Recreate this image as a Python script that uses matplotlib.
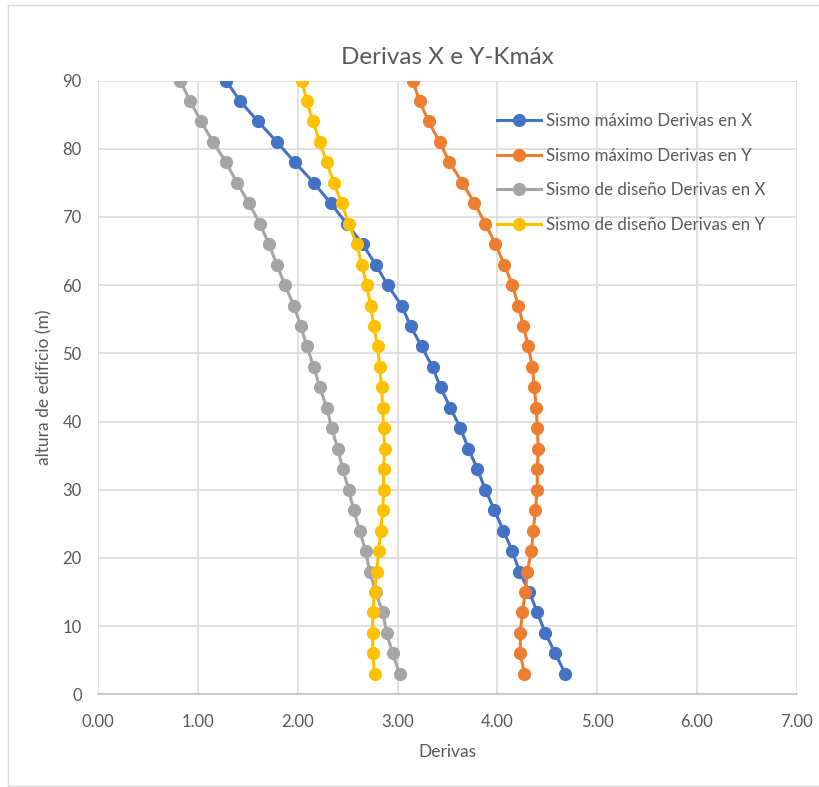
import matplotlib
matplotlib.use("Agg")
import matplotlib.pyplot as plt
from matplotlib.lines import Line2D

# Alturas de cada nivel (m)
alturas = [3, 6, 9, 12, 15, 18, 21, 24, 27, 30, 33, 36, 39, 42, 45,
           48, 51, 54, 57, 60, 63, 66, 69, 72, 75, 78, 81, 84, 87, 90]

# Derivas (de abajo hacia arriba)
max_x = [4.68, 4.58, 4.48, 4.40, 4.32, 4.22, 4.15, 4.06, 3.97, 3.88,
         3.80, 3.71, 3.63, 3.53, 3.43, 3.35, 3.24, 3.13, 3.04, 2.90,
         2.78, 2.65, 2.49, 2.33, 2.16, 1.97, 1.79, 1.60, 1.42, 1.28]
max_y = [4.27, 4.23, 4.23, 4.25, 4.28, 4.30, 4.34, 4.36, 4.38, 4.40,
         4.40, 4.41, 4.40, 4.39, 4.37, 4.35, 4.31, 4.26, 4.21, 4.15,
         4.07, 3.98, 3.88, 3.77, 3.65, 3.52, 3.42, 3.31, 3.22, 3.15]
dis_x = [3.02, 2.95, 2.89, 2.85, 2.78, 2.72, 2.68, 2.62, 2.56, 2.51,
         2.45, 2.40, 2.34, 2.29, 2.22, 2.16, 2.09, 2.03, 1.96, 1.87,
         1.79, 1.71, 1.62, 1.51, 1.39, 1.28, 1.15, 1.03, 0.92, 0.82]
dis_y = [2.77, 2.75, 2.75, 2.75, 2.77, 2.79, 2.81, 2.83, 2.85, 2.86,
         2.86, 2.87, 2.86, 2.85, 2.84, 2.82, 2.80, 2.76, 2.73, 2.69,
         2.64, 2.59, 2.51, 2.44, 2.36, 2.29, 2.22, 2.15, 2.09, 2.04]

series = [
    ("Sismo máximo Derivas en X", max_x, "#4472C4"),
    ("Sismo máximo Derivas en Y", max_y, "#ED7D31"),
    ("Sismo de diseño Derivas en X", dis_x, "#A5A5A5"),
    ("Sismo de diseño Derivas en Y", dis_y, "#FFC000"),
]

plt.rcParams['font.family'] = ['Lato', 'DejaVu Sans']
texto = '#595959'

fig = plt.figure(figsize=(8.2, 7.87), dpi=100)
ax = fig.add_axes([98.3 / 820, 1 - 694.3 / 787, (796.7 - 98.3) / 820, (694.3 - 80.5) / 787])

for nombre, valores, color in series:
    ax.plot(valores, alturas, color=color, linewidth=2.2, marker='o',
            markersize=8.5, label=nombre, zorder=3)

ax.set_xlim(0, 7)
ax.set_ylim(0, 90)
ax.set_xticks(range(0, 8))
ax.set_xticklabels([f"{v:.2f}" for v in range(0, 8)])
ax.set_yticks(range(0, 91, 10))

ax.grid(True, color='#D9D9D9', linewidth=1.1, zorder=0)
ax.set_axisbelow(True)
for lado in ['top', 'right', 'left']:
    ax.spines[lado].set_visible(False)
ax.spines['bottom'].set_color('#BFBFBF')
ax.spines['bottom'].set_linewidth(1.1)
ax.tick_params(axis='both', length=0, labelsize=12, labelcolor=texto)
ax.tick_params(axis='y', pad=12)
ax.tick_params(axis='x', pad=14)

ax.set_title("Derivas X e Y-Kmáx", fontsize=17.5, color=texto, pad=12)
ax.set_xlabel("Derivas", fontsize=12.5, color=texto, labelpad=10)
ax.set_ylabel("altura de edificio (m)", fontsize=12.5, color=texto, labelpad=7)

ax.legend(loc='upper left', bbox_to_anchor=(0.571, 0.947), frameon=False,
          fontsize=12.2, labelcolor=texto, handlelength=2.6, handletextpad=0.3,
          labelspacing=1.1, borderpad=0, borderaxespad=0)

# Borde del area del grafico
borde = '#D9D9D9'
fig.add_artist(Line2D([8 / 820, 8 / 820], [1 - 5 / 787, 1 - 786 / 787], color=borde, linewidth=1))
fig.add_artist(Line2D([8 / 820, 1], [1 - 5 / 787, 1 - 5 / 787], color=borde, linewidth=1))
fig.add_artist(Line2D([8 / 820, 1], [1 - 786 / 787, 1 - 786 / 787], color=borde, linewidth=1))

fig.savefig("out.png", dpi=100, facecolor='white')
plt.close(fig)
